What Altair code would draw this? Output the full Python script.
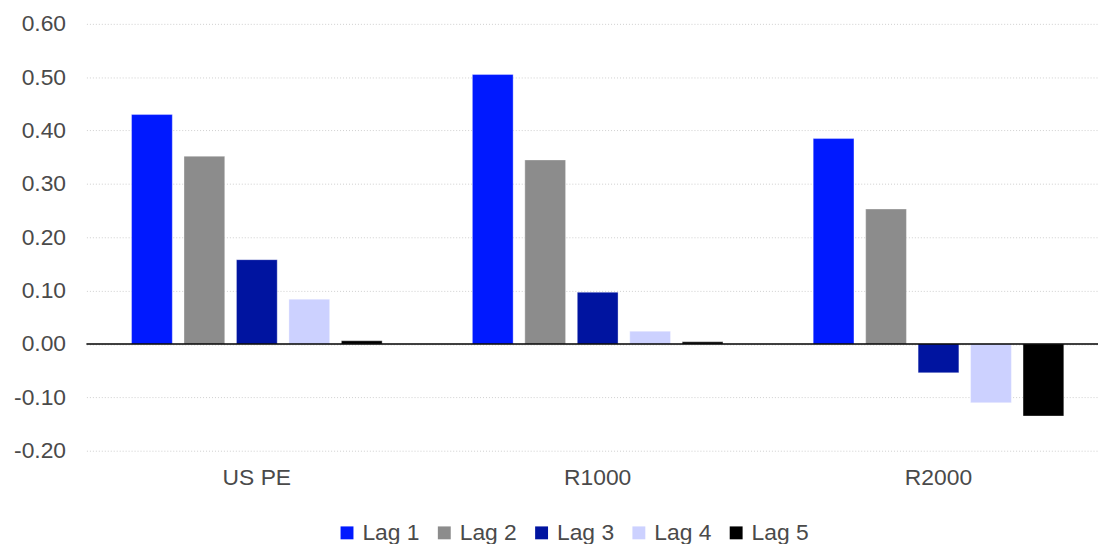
import altair as alt
import pandas as pd

groups = ["US PE", "R1000", "R2000"]
lags = ["Lag 1", "Lag 2", "Lag 3", "Lag 4", "Lag 5"]
lag1 = [0.430, 0.505, 0.385]
lag2 = [0.352, 0.345, 0.253]
lag3 = [0.158, 0.097, -0.054]
lag4 = [0.084, 0.024, -0.110]
lag5 = [0.006, 0.004, -0.135]
colors = ["#0019FF", "#8C8C8C", "#0014A0", "#CCD1FF", "#000000"]
y_ticks = [-0.2, -0.1, 0.0, 0.1, 0.2, 0.3, 0.4, 0.5, 0.6]

rows = []
for lag, vals in zip(lags, [lag1, lag2, lag3, lag4, lag5]):
    for g, v in zip(groups, vals):
        rows.append({"group": g, "lag": lag, "value": v})
df = pd.DataFrame(rows)

FONT = "Liberation Sans"
TXT = "#4a4a4a"

bars = alt.Chart(df).mark_bar(
    stroke="white", strokeWidth=1, strokeOpacity=0.35
).encode(
    x=alt.X("group:N", sort=groups, title=None,
            scale=alt.Scale(paddingInner=0, paddingOuter=0, range=[0, 1030]),
            axis=alt.Axis(domain=False, ticks=False, grid=False, labelAngle=0,
                          labelFontSize=23, labelFont=FONT, labelColor=TXT,
                          labelPadding=16)),
    xOffset=alt.XOffset("lag:N", sort=lags,
                        scale=alt.Scale(paddingInner=0.223, paddingOuter=0.86)),
    y=alt.Y("value:Q", title=None,
            scale=alt.Scale(domain=[-0.2, 0.6], nice=False, zero=False),
            axis=alt.Axis(values=y_ticks,
                          labelExpr="replace(format(datum.value, '.2f'), '\u2212', '-')",
                          domain=False, ticks=False,
                          grid=True, gridColor="#cfcfcf", gridDash=[1, 2],
                          gridWidth=1, labelFontSize=23, labelFont=FONT,
                          labelColor=TXT, labelPadding=21)),
    color=alt.Color("lag:N", sort=lags,
                    scale=alt.Scale(domain=lags, range=colors),
                    legend=alt.Legend(title=None, orient="none", direction="horizontal",
                                      legendX=251, legendY=501,
                                      symbolType="square", symbolSize=169,
                                      symbolStrokeWidth=0, symbolOpacity=1,
                                      labelFontSize=23, labelFont=FONT,
                                      labelColor=TXT, labelOffset=4,
                                      columnPadding=13)),
)

zero = alt.Chart(pd.DataFrame({"y": [0]})).mark_rule(
    color="#000000", strokeWidth=1.5
).encode(y="y:Q")

chart = alt.layer(bars, zero).properties(
    width=1019, height=430,
    background="white",
    autosize=alt.AutoSizeParams(type="none"),
    padding={"left": 79, "top": 14, "right": 0, "bottom": 92},
).configure_view(stroke=None)

chart.save("out.html", embed_options={"renderer": "svg", "actions": False})
